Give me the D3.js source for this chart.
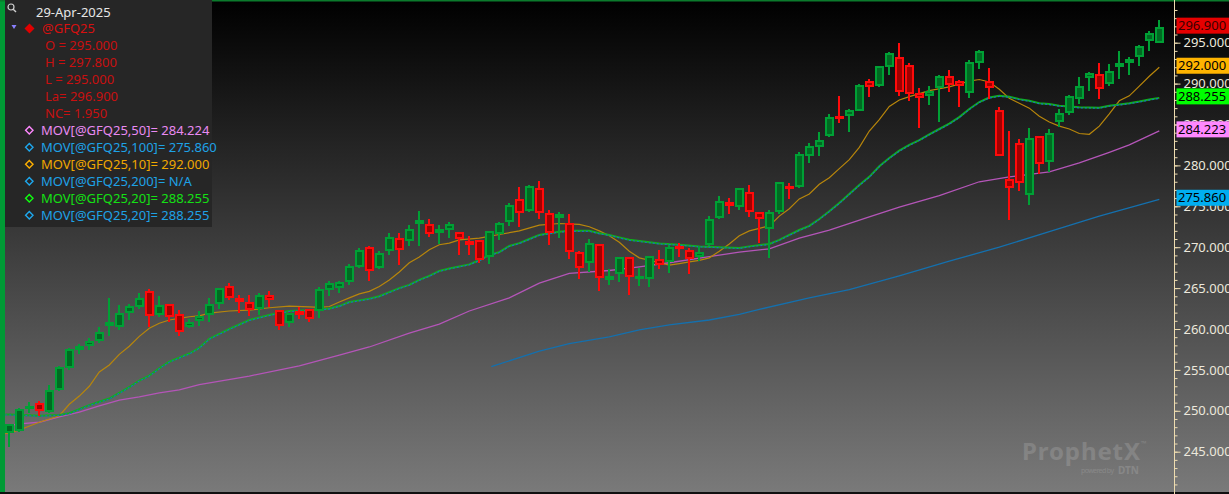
<!DOCTYPE html>
<html><head><meta charset="utf-8">
<script src="https://cdn.jsdelivr.net/npm/d3@7"></script>
<style>
html,body{margin:0;padding:0;background:#000;overflow:hidden}
svg{display:block}
text{font-family:"Noto Sans",sans-serif}
</style>
</head><body>
<svg id="c" width="1229" height="494"></svg>
<script>
// ---- data ----
const symbol = "@GFQ25";
const lastDate = "29-Apr-2025";
const opens = [247.3,247.5,250.2,250.9,249.8,252.5,255.2,257.5,257.9,258.5, 260.6,260.2,261.9,262.7,264.6,261.7,263.0,261.8,260.2,261.0, 261.7,263.0,265.3,263.8,263.3,262.4,264.2,262.3,260.7,262.2, 262.5,262.2,264.8,265.0,265.7,267.6,270.0,267.5,269.5,271.1, 270.8,273.1,272.8,272.0,272.1,271.9,270.7,270.9,268.8,271.6, 273.1,275.9,274.4,277.2,274.2,273.6,272.9,269.45,268.1,270.4, 266.0,266.7,268.8,266.2,266.1,268.6,268.2,270.2,269.6,268.75, 270.3,273.6,275.5,274.9,276.8,274.3,272.2,274.3,277.5,277.3, 281.2,282.3,283.6,286.04,286.04,286.7,290.3,289.7,292.0,293.2, 292.3,288.8,288.5,289.5,290.9,290.3,288.9,292.55,290.3,286.8, 278.3,282.7,276.4,283.6,280.45,285.3,286.4,288.1,290.7,291.2, 290.0,292.25,292.55,293.2,295.2,295.0];
const highs = [248.4,250.3,251.1,251.2,253.1,255.5,257.7,258.2,258.9,260.2, 263.8,262.9,263.1,264.4,264.9,264.0,263.0,262.3,261.2,262.2, 263.8,265.0,265.6,264.1,264.2,264.4,264.6,262.3,262.0,262.7, 262.5,265.1,265.9,265.9,267.9,269.9,270.1,269.5,271.7,271.7, 272.7,274.4,273.5,272.7,273.1,271.9,271.4,270.9,272.0,273.1, 275.4,277.3,277.6,278.1,274.6,274.3,274.1,269.5,271.0,270.4, 267.3,268.8,268.8,267.5,268.9,269.7,270.3,270.5,269.9,270.1, 273.8,276.2,276.05,277.2,277.6,274.3,274.55,278.0,277.9,281.6, 282.7,284.1,286.3,288.5,286.9,290.0,290.6,292.15,293.9,295.0, 292.55,289.5,289.7,291.0,291.7,290.4,292.9,294.1,291.9,287.1, 284.2,283.2,284.6,283.6,284.45,286.9,288.6,290.8,291.45,292.55, 292.4,294.0,293.2,294.7,296.4,297.8];
const lows = [245.6,247.4,249.7,249.4,249.7,252.4,255.0,257.0,257.4,258.3, 259.1,259.9,261.1,262.4,260.2,261.5,260.9,259.1,260.1,260.4, 260.8,262.4,263.5,262.0,261.6,261.7,262.7,259.9,260.3,261.2, 260.9,261.4,264.0,264.4,265.4,267.5,265.9,267.3,269.0,267.8, 270.2,270.2,271.2,270.4,271.1,269.0,269.0,268.1,268.0,270.9, 272.6,272.5,274.3,273.4,270.3,271.1,268.6,266.1,267.0,264.6, 265.4,265.7,264.1,265.2,265.1,267.3,266.8,268.8,266.7,268.3, 270.1,273.5,274.1,274.6,273.7,270.5,268.7,274.1,275.9,277.2, 280.3,281.1,283.5,285.2,284.1,286.6,288.4,289.6,291.05,288.5, 287.9,284.6,287.4,285.3,289.0,287.2,288.3,291.8,288.1,281.1, 273.3,276.9,275.1,278.9,279.2,284.7,286.2,287.5,289.1,288.1, 289.7,290.55,291.0,292.1,294.0,295.0];
const closes = [248.4,250.2,250.6,250.0,252.6,255.3,257.6,257.9,258.5,259.6, 260.8,261.9,262.8,263.8,261.6,262.9,261.5,259.6,260.9,261.6, 263.1,265.0,263.8,263.3,262.3,264.2,263.6,260.4,262.0,261.8, 261.2,264.9,265.6,265.8,267.7,269.7,267.1,269.3,271.2,269.7, 272.2,273.3,271.6,272.2,272.8,271.0,270.3,268.4,272.0,272.9, 275.2,274.2,277.5,274.2,271.7,274.1,269.4,267.4,270.5,266.2, 266.5,268.8,266.3,266.5,268.9,267.8,270.0,269.8,268.55,269.45, 273.4,275.6,275.0,277.2,274.3,273.5,274.3,278.0,277.1,281.4, 282.4,283.1,285.9,285.8,286.8,289.8,289.6,292.15,293.8,289.0, 288.7,288.2,289.1,290.9,289.8,289.7,292.7,294.0,289.5,281.2, 277.2,277.8,283.4,280.2,283.9,286.4,288.5,289.7,291.3,289.4, 291.5,292.5,293.0,294.6,296.15,296.9];

// moving averages as [bar index, value]
const ma10 = [[-0.4,247.2],[0,247.3],[1,247.65],[3,248.6],[5,249.4],[6,250.8],[7,251.8],[8,253.0],[9,254.75],[10,255.6],[11,256.9],[12,257.9],[13,259.1],[14,260.1],[15,260.7],[16,261.1],[17,261.3],[18,261.5],[19,261.6],[20,261.95],[22,262.2],[24,262.3],[26,262.6],[28,262.8],[30,262.7],[31,262.65],[32,262.75],[33,263.3],[34,263.8],[35,264.3],[36,264.6],[37,265.2],[38,266.0],[39,266.97],[40,268.1],[41,268.8],[42,269.7],[43,270.3],[44,270.5],[45,270.9],[47,271.1],[49,271.55],[51,272.0],[53,272.7],[55,272.9],[57,272.8],[58,272.5],[59,272.0],[60,271.4],[61,270.6],[62,269.5],[63,268.7],[64,268.4],[65,268.1],[66,267.8],[67,268.0],[68,268.2],[69,268.4],[70,268.7],[71,269.5],[72,270.4],[73,271.4],[74,272.0],[75,272.3],[76,272.6],[77,273.8],[78,274.7],[79,275.9],[80,276.5],[81,277.7],[82,278.5],[83,279.6],[84,280.7],[85,282.2],[86,284.2],[87,285.6],[88,287.2],[89,288.0],[90,288.4],[92,289.15],[94,289.6],[96,290.3],[97,290.5],[98,290.2],[99,289.3],[100,288.2],[101,287.6],[102,287.0],[103,286.0],[104,285.3],[105,284.8],[106,284.45],[107,283.9],[108,283.8],[109,284.8],[110,286.3],[111,287.9],[112,288.5],[113,289.7],[114,290.9],[115,292.0]];
const ma20 = [[-0.4,249.55],[0,249.55],[3,249.4],[5,249.5],[6,249.7],[7,250.2],[8,250.7],[9,251.1],[10,251.5],[11,252.2],[12,252.9],[13,253.7],[14,254.3],[15,255.2],[16,256.0],[17,256.5],[18,257.0],[19,257.7],[20,258.8],[21,259.4],[22,260.0],[24,261.1],[26,261.7],[28,262.2],[30,262.3],[32,262.5],[33,262.8],[34,263.3],[35,263.5],[36,263.7],[37,264.0],[38,264.5],[39,265.0],[40,265.4],[41,266.0],[42,266.5],[43,267.1],[44,267.4],[45,267.65],[46,267.9],[47,268.4],[48,269.05],[49,269.4],[50,270.15],[51,270.5],[52,271.0],[53,271.5],[54,271.7],[55,271.9],[56,272.0],[57,272.0],[58,272.0],[59,271.7],[60,271.5],[61,271.2],[62,270.9],[63,270.75],[65,270.45],[67,270.3],[69,270.1],[71,270.0],[73,269.9],[74,270.1],[76,270.4],[77,270.9],[78,271.5],[79,272.1],[80,272.6],[81,273.45],[82,274.4],[83,275.4],[84,276.5],[85,277.6],[86,278.6],[87,279.9],[88,280.9],[89,281.8],[90,282.5],[91,283.1],[92,283.8],[93,284.45],[94,285.1],[95,285.9],[96,286.9],[97,287.75],[98,288.3],[99,288.5],[100,288.4],[101,288.1],[102,287.9],[103,287.6],[104,287.5],[105,287.3],[106,287.2],[107,287.1],[109,287.05],[110,287.3],[111,287.45],[112,287.6],[113,287.8],[114,288.05],[115,288.255]];
const ma50 = [[-0.4,248.15],[0,248.2],[1,248.4],[3,248.6],[5,249.25],[7,249.85],[9,250.6],[11,251.3],[13,251.7],[15,252.2],[17,252.55],[19,253.2],[24,254.25],[29,255.5],[33,256.8],[36,257.8],[40,259.5],[43,260.6],[46,262.2],[50,263.8],[53,265.6],[56,266.8],[60,267.15],[63,267.6],[66,268.1],[70,268.85],[73,269.4],[76,269.8],[79,271.1],[82,272.1],[86,273.7],[89,274.9],[93,276.3],[97,278.0],[100,278.6],[104,279.2],[107,280.3],[110,281.6],[112,282.5],[115,284.223]];
const ma100 = [[48.2,255.4],[53,257.3],[56,258.2],[60,259.05],[63,259.9],[66,260.5],[70,261.1],[73,261.8],[75,262.4],[80,263.8],[84,264.8],[89,266.5],[94,268.3],[99,270.0],[104,271.9],[109,273.8],[115,275.86]];

const legendRows = [
  {label:"MOV[@GFQ25,50]= 284.224", color:"#e98af2", mark:"#ff88ff"},
  {label:"MOV[@GFQ25,100]= 275.860", color:"#1ea2e6", mark:"#1ea8ee"},
  {label:"MOV[@GFQ25,10]= 292.000", color:"#f0a800", mark:"#ffb000"},
  {label:"MOV[@GFQ25,200]= N/A", color:"#1ea2e6", mark:"#1ea8ee"},
  {label:"MOV[@GFQ25,20]= 288.255", color:"#14e014", mark:"#10ff10"},
  {label:"MOV[@GFQ25,20]= 288.255", color:"#1ea2e6", mark:"#1ea8ee"}
];
const ohlcLabels = ["O = 295.000","H = 297.800","L = 295.000","La= 296.900","NC= 1.950"];
const priceTags = [
  {v:296.9, txt:"296.900", bg:"#e60000", fg:"#3a0000"},
  {v:292.0, txt:"292.000", bg:"#ffb400", fg:"#000"},
  {v:288.255, txt:"288.255", bg:"#00ff00", fg:"#000"},
  {v:284.223, txt:"284.223", bg:"#ff88ff", fg:"#000"},
  {v:275.86, txt:"275.860", bg:"#00aef0", fg:"#000"}
];
const majorTicks = [245,250,255,260,265,270,275,280,285,290,295];
const minorTicks = d3.range(241,300);

// ---- drawing ----
const W = 1229, H = 494, axisX = 1174.5;
const svg = d3.select("#c");
const defs = svg.append("defs");
const grad = defs.append("linearGradient").attr("id","bg").attr("x1",0).attr("y1",0).attr("x2",0).attr("y2",1);
grad.append("stop").attr("offset","0%").attr("stop-color","#000");
grad.append("stop").attr("offset","100%").attr("stop-color","#7a7a7a");
defs.append("clipPath").attr("id","plotclip").append("rect").attr("x",5).attr("y",0).attr("width",axisX-5).attr("height",H);

svg.append("rect").attr("width",W).attr("height",H).attr("fill","url(#bg)");

const x = d3.scaleLinear().domain([0,115]).range([9.3,1159.3]);
const y = d3.scaleLinear().domain([245,295]).range([451.7,42.7]);

// watermark (behind marks)
const wm = svg.append("g").attr("opacity",0.18);
wm.append("text").attr("x",1022).attr("y",460).attr("font-size",24).attr("font-weight","bold")
  .attr("fill","#e0e0e0").attr("textLength",118).text("ProphetX");
wm.append("text").attr("x",1141).attr("y",446).attr("font-size",7).attr("fill","#e0e0e0").text("™");
wm.append("text").attr("x",1081).attr("y",473).attr("font-size",7).attr("fill","#e0e0e0").attr("textLength",33).text("powered by");
wm.append("text").attr("x",1118).attr("y",474).attr("font-size",10).attr("font-weight","bold").attr("fill","#e0e0e0").attr("textLength",21).text("DTN");

const plot = svg.append("g").attr("clip-path","url(#plotclip)");
const line = d3.line().x(d=>x(d[0])).y(d=>y(d[1]));

plot.append("path").datum(ma100).attr("d",line).attr("fill","none").attr("stroke","#1470ae").attr("stroke-width",1.3);
plot.append("path").datum(ma50).attr("d",line).attr("fill","none").attr("stroke","#b455b8").attr("stroke-width",1.3);
plot.append("path").datum(ma10).attr("d",line).attr("fill","none").attr("stroke","#b8860b").attr("stroke-width",1.2);
plot.append("path").datum(ma20).attr("d",line).attr("fill","none").attr("stroke","#0fae1e").attr("stroke-width",2);
plot.append("path").datum(ma20).attr("d",line).attr("fill","none").attr("stroke","#1c6cc0").attr("stroke-width",1.2)
  .attr("stroke-dasharray","2 2").attr("transform","translate(0,0.5)");

const bars = opens.map((o,i)=>({i, o, h:highs[i], l:lows[i], c:closes[i]}));
const cg = plot.append("g").attr("shape-rendering","crispEdges");
const cand = cg.selectAll("g").data(bars).join("g");
const up = d => d.c >= d.o;
cand.append("line")
  .attr("x1",d=>Math.round(x(d.i))).attr("x2",d=>Math.round(x(d.i)))
  .attr("y1",d=>y(d.h)).attr("y2",d=>y(d.l))
  .attr("stroke",d=>up(d)?"#00a035":"#ff0a0a").attr("stroke-width",2);
cand.append("rect")
  .attr("x",d=>Math.round(x(d.i))-3.5)
  .attr("width",7)
  .attr("y",d=>y(Math.max(d.o,d.c))+1)
  .attr("height",d=>Math.max(1.5, y(Math.min(d.o,d.c))-y(Math.max(d.o,d.c))-2))
  .attr("fill",d=>up(d)?"#006a22":"#a00000")
  .attr("stroke",d=>up(d)?"#00a035":"#ff0a0a").attr("stroke-width",2);

// frame accents
svg.append("rect").attr("x",0).attr("y",0).attr("width",5).attr("height",H).attr("fill","#009a35");
svg.append("rect").attr("x",0).attr("y",0).attr("width",W).attr("height",1.5).attr("fill","#0b7a2c");
svg.append("rect").attr("x",0).attr("y",H-2).attr("width",W).attr("height",2).attr("fill","#101010");

// right axis
const axMinor = d3.axisRight(y).tickValues(minorTicks).tickSize(3).tickFormat("");
const axMajor = d3.axisRight(y).tickValues(majorTicks).tickSize(6).tickPadding(3).tickFormat(d3.format(".3f"));
const gMin = svg.append("g").attr("transform",`translate(${axisX},0)`).call(axMinor);
const gMaj = svg.append("g").attr("transform",`translate(${axisX},0)`).call(axMajor);
[gMin,gMaj].forEach(g=>{ g.select(".domain").remove(); g.selectAll("line").attr("stroke","#eedcb0"); });
gMaj.selectAll("text").attr("fill","#ece8dc").attr("font-size",13).attr("font-family","'Noto Sans',sans-serif");
svg.append("line").attr("x1",axisX).attr("x2",axisX).attr("y1",0).attr("y2",H).attr("stroke","#eedcb0").attr("stroke-width",1);

// price tags
const tags = svg.append("g").selectAll("g").data(priceTags).join("g")
  .attr("transform",d=>`translate(${axisX+2},${y(d.v)-1.5})`);
tags.append("rect").attr("x",0).attr("y",-8).attr("width",W-axisX-2).attr("height",16).attr("fill",d=>d.bg);
tags.append("text").attr("x",1.5).attr("y",0).attr("dy","0.36em").attr("font-size",13).attr("fill",d=>d.fg).text(d=>d.txt);

// legend
const lg = svg.append("g");
lg.append("rect").attr("x",5).attr("y",0).attr("width",207).attr("height",227).attr("fill","#262626");
lg.append("circle").attr("cx",11).attr("cy",7).attr("r",3).attr("fill","none").attr("stroke","#d0d0d0").attr("stroke-width",1.2);
lg.append("line").attr("x1",13.2).attr("y1",9.2).attr("x2",16).attr("y2",12).attr("stroke","#d0d0d0").attr("stroke-width",1.4);
lg.append("text").attr("x",36).attr("y",16.5).attr("font-size",13).attr("fill","#e6e6e6").text(lastDate);
lg.append("path").attr("d","M11.5,25 L16.5,25 L14,29 Z").attr("fill","#8a80ff");
lg.append("path").attr("d","M29.5,23.5 L34.5,28.5 L29.5,33.5 L24.5,28.5 Z").attr("fill","#e00000");
lg.append("text").attr("x",42).attr("y",33.3).attr("font-size",13).attr("fill","#d81010").text(symbol);
lg.selectAll("text.ohlc").data(ohlcLabels).join("text").attr("class","ohlc")
  .attr("x",45).attr("y",(d,i)=>50+i*17).attr("font-size",13).attr("fill","#c81010").text(d=>d);
const rows = lg.selectAll("g.row").data(legendRows).join("g").attr("class","row")
  .attr("transform",(d,i)=>`translate(0,${135+i*17})`);
rows.append("path").attr("d","M29.3,-8.5 L33,-4.8 L29.3,-1.1 L25.6,-4.8 Z").attr("fill","none")
  .attr("stroke",d=>d.mark).attr("stroke-width",1.4);
rows.append("text").attr("x",41).attr("y",0).attr("font-size",13).attr("fill",d=>d.color).text(d=>d.label);
</script>
</body></html>
